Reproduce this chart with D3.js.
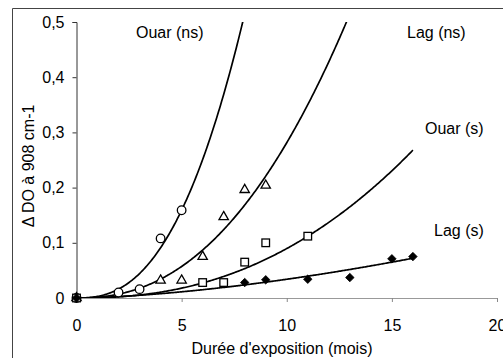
<!DOCTYPE html>
<html>
<head>
<meta charset="utf-8">
<script src="https://cdn.jsdelivr.net/npm/d3@7/dist/d3.min.js"></script>
<style>
  html, body { margin: 0; padding: 0; background: #fff; }
  svg { display: block; font-family: "Liberation Sans", Arial, sans-serif; }
</style>
</head>
<body>
<svg id="chart" width="503" height="358"></svg>
<script>
// Absorbance change at 908 cm-1 versus exposure time (months)
const xTicks = [0, 5, 10, 15, 20];
const yTicks = [0, 0.1, 0.2, 0.3, 0.4, 0.5];

// Measured points, one array per sample
const ouarNsX = [0, 2, 3, 4, 5];
const ouarNsY = [0, 0.01, 0.016, 0.108, 0.159];

const lagNsX = [0, 4, 5, 6, 7, 8, 9];
const lagNsY = [0, 0.032, 0.032, 0.075, 0.147, 0.196, 0.204];

const ouarSX = [0, 6, 7, 8, 9, 11];
const ouarSY = [0, 0.028, 0.028, 0.065, 0.1, 0.112];

const lagSX = [0, 8, 9, 11, 13, 15, 16];
const lagSY = [0, 0.028, 0.033, 0.034, 0.037, 0.071, 0.075];

// Power-law trend fits y = a * x^b, drawn up to xEnd
const fitA = [0.002845, 0.00141, 0.000419, 0.000853];
const fitB = [2.5, 2.3, 2.33, 1.6];
const fitEnd = [8.2, 13.2, 16, 16];

const seriesNames = ["Ouar (ns)", "Lag (ns)", "Ouar (s)", "Lag (s)"];

const svg = d3.select("#chart");
const x = d3.scaleLinear().domain([0, 20]).range([76.5, 497]);
const y = d3.scaleLinear().domain([0, 0.5]).range([298, 22]);

const frLocale = d3.formatLocale({decimal: ",", thousands: " ", grouping: [3], currency: ["", " €"]});
const fmt = frLocale.format("~g");

// outer frame (top and left edges)
svg.append("path")
  .attr("d", "M12.5,360 V8.5 H505")
  .attr("fill", "none").attr("stroke", "#444").attr("stroke-width", 1);

// axes
const yAxis = svg.append("g")
  .attr("transform", `translate(${x(0)},0)`)
  .call(d3.axisLeft(y).tickValues(yTicks).tickFormat(fmt).tickSize(4).tickPadding(8));
yAxis.select(".domain").attr("stroke", "#333");
yAxis.selectAll(".tick line").attr("stroke", "#333");
yAxis.selectAll("text").attr("font-size", 16).attr("fill", "#000");

const xAxis = svg.append("g")
  .attr("transform", `translate(0,${y(0)})`)
  .call(d3.axisBottom(x).tickValues(xTicks).tickFormat(fmt).tickSize(4).tickSizeOuter(0).tickPadding(18));
xAxis.select(".domain").attr("stroke", "#999");
xAxis.selectAll(".tick line").attr("stroke", "#888");
xAxis.selectAll("text").attr("font-size", 16).attr("fill", "#000");

// axis titles
svg.append("text")
  .attr("x", 282).attr("y", 354)
  .attr("text-anchor", "middle").attr("font-size", 16)
  .text("Durée d'exposition (mois)");

svg.append("text")
  .attr("transform", "translate(33.5,166) rotate(-90)")
  .attr("text-anchor", "middle").attr("font-size", 16)
  .text("\u0394 DO à 908 cm-1");

// trend curves, clipped to the plotting area
svg.append("clipPath").attr("id", "plot-clip")
  .append("rect").attr("x", x(0)).attr("y", y(0.5)).attr("width", x(20) - x(0)).attr("height", y(0) - y(0.5));

const line = d3.line().x(d => x(d[0])).y(d => y(d[1]));
const curves = svg.append("g").attr("clip-path", "url(#plot-clip)");
fitA.forEach((a, i) => {
  const b = fitB[i];
  const pts = d3.range(0, fitEnd[i] + 1e-9, 0.05).map(t => [t, a * Math.pow(t, b)]);
  curves.append("path")
    .attr("d", line(pts))
    .attr("fill", "none").attr("stroke", "#000").attr("stroke-width", 1.7);
});

// markers
const marks = svg.append("g");
const pairs = (xs, ys) => xs.map((v, i) => [v, ys[i]]);

marks.selectAll(".circ").data(pairs(ouarNsX, ouarNsY)).join("circle")
  .attr("cx", d => x(d[0])).attr("cy", d => y(d[1])).attr("r", 4.3)
  .attr("fill", "#fff").attr("stroke", "#000").attr("stroke-width", 1.3);

const tri = d3.symbol().type(d3.symbolTriangle).size(38);
marks.selectAll(".tri").data(pairs(lagNsX, lagNsY)).join("path")
  .attr("d", tri).attr("transform", d => `translate(${x(d[0])},${y(d[1])})`)
  .attr("fill", "#fff").attr("stroke", "#000").attr("stroke-width", 1.3);

marks.selectAll(".sq").data(pairs(ouarSX, ouarSY)).join("rect")
  .attr("x", d => x(d[0]) - 3.8).attr("y", d => y(d[1]) - 3.8)
  .attr("width", 7.6).attr("height", 7.6)
  .attr("fill", "#fff").attr("stroke", "#000").attr("stroke-width", 1.3);

const dia = d3.symbol().type(d3.symbolDiamond2).size(46);
marks.selectAll(".dia").data(pairs(lagSX, lagSY)).join("path")
  .attr("d", dia).attr("transform", d => `translate(${x(d[0])},${y(d[1])})`)
  .attr("fill", "#000").attr("stroke", "#000").attr("stroke-width", 0.8);

// series labels
const labelX = [136, 407, 425, 434];
const labelY = [37.5, 37.5, 134, 236];
svg.append("g").selectAll("text").data(seriesNames).join("text")
  .attr("x", (d, i) => labelX[i]).attr("y", (d, i) => labelY[i])
  .attr("font-size", 16).attr("fill", "#000")
  .text(d => d);
</script>
</body>
</html>
